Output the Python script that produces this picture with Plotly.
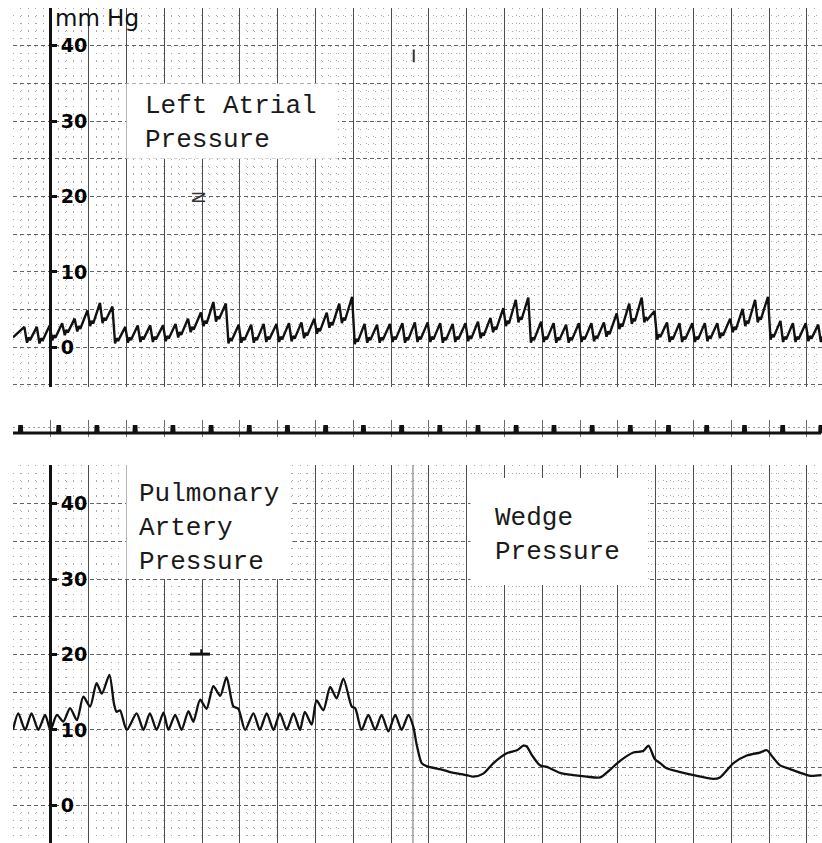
import plotly.graph_objects as go

# ---------------- data ----------------
# Left atrial pressure: one entry per heart beat (peak time s, peak mmHg, trough after the peak mmHg)
la_peak_t = [0.30, 0.63, 0.97, 1.30, 1.63, 1.97, 2.30, 2.63, 2.97, 3.30, 3.63, 3.97, 4.30, 4.63,
             4.97, 5.30, 5.63, 5.97, 6.30, 6.63, 6.97, 7.30, 7.63, 7.97, 8.30, 8.63, 8.97, 9.30,
             9.63, 9.97, 10.30, 10.63, 10.97, 11.30, 11.63, 11.97, 12.30, 12.63, 12.97, 13.30,
             13.63, 13.97, 14.30, 14.63, 14.97, 15.30, 15.63, 15.97, 16.30, 16.63, 16.97, 17.30,
             17.63, 17.97, 18.30, 18.63, 18.97, 19.30, 19.63, 19.97, 20.30, 20.63, 20.97, 21.30]
la_peak = [2.7, 2.7, 2.9, 3.2, 3.8, 4.9, 5.9, 5.4,
           2.7, 2.9, 2.9, 2.9, 3.1, 3.8, 4.6, 6.0, 5.8,
           3.0, 3.0, 3.1, 3.1, 3.2, 3.3, 3.8, 4.6, 5.8, 6.7,
           3.1, 3.0, 3.1, 3.2, 3.3, 3.3, 3.2, 3.1, 3.2, 3.4, 3.9, 5.2, 6.3, 6.6,
           3.4, 3.2, 3.0, 3.2, 3.2, 3.3, 4.5, 5.8, 6.6, 4.8,
           3.3, 3.2, 3.2, 3.2, 3.2, 3.8, 5.1, 6.3, 6.7,
           3.5, 3.2, 3.2, 3.0]
la_trough = [0.6, 0.5, 0.9, 1.6, 2.1, 2.8, 3.2, 0.5,
             0.6, 0.7, 0.7, 0.8, 1.3, 2.0, 2.8, 3.4, 0.5,
             0.6, 0.6, 0.7, 0.7, 0.8, 1.2, 1.8, 2.6, 3.2, 0.4,
             0.6, 0.6, 0.7, 0.6, 0.7, 0.7, 0.6, 0.7, 0.8, 1.2, 2.0, 2.8, 3.3, 0.6,
             0.7, 0.6, 0.6, 0.7, 0.8, 1.4, 2.4, 3.1, 3.3, 1.0,
             0.7, 0.7, 0.7, 0.8, 1.2, 2.0, 2.8, 3.3, 1.0,
             0.7, 0.7, 0.8, 0.7]
la_start = 1.3

# Pulmonary artery pressure, then wedge pressure after the catheter is advanced (s, mmHg)
pa_t = [0.00, 0.14, 0.32, 0.49, 0.67, 0.85, 0.99, 1.16, 1.33, 1.51, 1.69, 1.86, 2.04, 2.21,
        2.35, 2.55, 2.67, 2.74, 2.83, 3.01, 3.27, 3.45, 3.62, 3.80, 3.98, 4.11, 4.29, 4.46,
        4.64, 4.77, 4.95, 5.12, 5.30, 5.48, 5.65, 5.83, 5.96, 6.14, 6.36, 6.53, 6.71, 6.89,
        7.06, 7.24, 7.42, 7.59, 7.72, 7.90, 8.03, 8.21, 8.39, 8.56, 8.74, 8.96, 9.05, 9.22,
        9.40, 9.58, 9.75, 9.93, 10.11, 10.28, 10.46, 10.59, 10.68, 10.81,
        10.94, 11.38, 11.56, 12.00, 12.18, 12.44, 12.71, 13.06, 13.33, 13.50, 13.59, 13.72,
        13.94, 14.12, 14.47, 14.82, 15.18, 15.53, 15.79, 16.06, 16.41, 16.67, 16.81, 16.98,
        17.12, 17.29, 17.65, 18.00, 18.53, 18.70, 19.06, 19.41, 19.76, 19.94, 20.11, 20.29,
        20.56, 20.83, 21.09, 21.39]
pa_p = [10.0, 12.2, 10.0, 12.2, 10.0, 12.0, 10.0, 12.0, 11.1, 12.9, 11.3, 14.4, 13.1, 16.2,
        14.8, 17.3, 13.5, 12.4, 12.6, 10.0, 12.2, 10.0, 12.2, 10.0, 12.3, 10.0, 12.0, 10.0,
        12.5, 11.1, 14.0, 12.8, 15.8, 14.5, 17.0, 13.1, 12.8, 10.0, 12.2, 10.0, 12.2, 10.0,
        12.2, 10.0, 12.2, 10.0, 12.4, 10.7, 13.9, 12.6, 15.7, 14.2, 16.8, 13.1, 12.9, 10.0,
        12.0, 10.0, 12.0, 9.8, 12.0, 10.0, 12.0, 10.4, 8.0, 5.6,
        5.2, 4.7, 4.4, 4.0, 3.8, 4.2, 5.6, 6.9, 7.3, 7.9, 7.8, 6.7,
        5.3, 5.1, 4.3, 4.0, 3.8, 3.7, 4.7, 5.9, 7.0, 7.2, 7.9, 6.1,
        5.6, 4.9, 4.4, 4.0, 3.5, 3.7, 5.6, 6.6, 7.0, 7.3, 6.3, 5.3,
        4.8, 4.3, 3.9, 4.0]

# Time marker pulses on the centre channel (s)
mark_t = [0.20, 1.21, 2.22, 3.23, 4.23, 5.24, 6.25, 7.26, 8.27, 9.27, 10.28, 11.29, 12.30,
          13.31, 14.31, 15.32, 16.33, 17.34, 18.35, 19.35, 20.36, 21.37]

scale_vals = [0, 10, 20, 30, 40]
scale_text = ["0", "10", "20", "30", "40"]

# ---------------- geometry ----------------
W, H = 822, 843
T_END = 21.40
X_DOM = [13 / W, 1.0]
TOP_DOM = [1 - 387 / H, 1 - 8 / H]
BOT_DOM = [0.0, 1 - 465 / H]
MID_DOM = [1 - 437 / H, 1 - 420 / H]
TOP_RANGE = [-5.27, 45.0]
BOT_RANGE = [-5.0, 45.13]
AXIS_POS = 50 / W

# waveform vertices for the left atrial trace
la_x, la_y = [0.0], [la_start]
for t, pk, tr in zip(la_peak_t, la_peak, la_trough):
    la_x += [t, t + 0.07, t + 0.11, t + 0.15]
    la_y += [pk, tr, tr + 0.7, tr + 0.35]

# narrow pulses for the time marker channel
mk_x, mk_y = [0.0], [0.0]
for t in mark_t:
    mk_x += [t - 0.03, t - 0.02, t + 0.02, t + 0.03]
    mk_y += [0.0, 6.5, 6.5, 0.0]
mk_x.append(T_END)
mk_y.append(0.0)

INK = "#111111"
MAJOR_V = "#4d4d4d"
MAJOR_H = "#626262"
MINOR = "#a8a8a8"

fig = go.Figure()
fig.add_trace(go.Scatter(x=la_x, y=la_y, xaxis="x", yaxis="y4", mode="lines",
                         line=dict(color=INK, width=2.4), hoverinfo="skip", showlegend=False))
fig.add_trace(go.Scatter(x=pa_t, y=pa_p, xaxis="x2", yaxis="y5", mode="lines",
                         line=dict(color=INK, width=2.3, shape="spline", smoothing=0.7),
                         hoverinfo="skip", showlegend=False))
fig.add_trace(go.Scatter(x=mk_x, y=mk_y, xaxis="x3", yaxis="y3", mode="lines",
                         line=dict(color=INK, width=3.2), hoverinfo="skip", showlegend=False))


def time_axis(anchor, grid=True, minor=True):
    ax = dict(domain=X_DOM, range=[0, T_END], anchor=anchor, showticklabels=False, ticks="",
              zeroline=False, showline=False, tick0=0, dtick=1, showgrid=grid,
              gridcolor=MAJOR_V, gridwidth=1)
    if minor:
        ax["minor"] = dict(tick0=0, dtick=0.2, showgrid=True, gridcolor=MINOR, gridwidth=1,
                           griddash="1px,6.56px")
    return ax


def grid_axis(dom, rng, anchor):
    return dict(domain=dom, range=rng, anchor=anchor, showticklabels=False, ticks="",
                zeroline=False, showline=False, tick0=0, dtick=5, showgrid=True,
                gridcolor=MAJOR_H, gridwidth=1, griddash="4px,3px",
                minor=dict(tick0=0, dtick=1, showgrid=True, gridcolor=MINOR, gridwidth=1,
                           griddash="1px,6.5px"))


def scale_axis(over, rng):
    return dict(overlaying=over, anchor="free", position=AXIS_POS, side="right", range=rng,
                showgrid=False, zeroline=False, showline=True, linecolor=INK, linewidth=3,
                ticks="outside", ticklen=5, tickwidth=2.5, tickcolor=INK,
                tickvals=scale_vals, ticktext=scale_text,
                tickfont=dict(family="DejaVu Sans", size=19, color="#000000", weight="bold"))


mid_x = time_axis("y3", minor=False)
mid_x["gridcolor"] = "#6a6a6a"

fig.update_layout(
    width=W, height=H, margin=dict(l=0, r=0, t=0, b=0), autosize=False,
    paper_bgcolor="white", plot_bgcolor="white", showlegend=False,
    xaxis=time_axis("y"),
    yaxis=grid_axis(TOP_DOM, TOP_RANGE, "x"),
    xaxis2=dict(time_axis("y2"), matches="x"),
    yaxis2=grid_axis(BOT_DOM, BOT_RANGE, "x2"),
    xaxis3=dict(mid_x, matches="x"),
    yaxis3=dict(domain=MID_DOM, range=[-4, 13], anchor="x3", showticklabels=False, ticks="",
                zeroline=False, showline=False, tickvals=[6], showgrid=True,
                gridcolor="#9a9a9a", gridwidth=1, griddash="2px,3px"),
    yaxis4=scale_axis("y", TOP_RANGE),
    yaxis5=scale_axis("y2", BOT_RANGE),
)

# label cards pasted over the chart paper
for xr, yr, x0, x1, y0, y1 in [("x", "y", 3.0, 8.6, 25, 35),
                               ("x2", "y2", 3.0, 7.35, 30, 45.13),
                               ("x2", "y2", 12.1, 16.8, 29.2, 43.4)]:
    fig.add_shape(type="rect", xref=xr, yref=yr, x0=x0, x1=x1, y0=y0, y1=y1,
                  fillcolor="white", line=dict(width=0), layer="between")

# splice in the paper where the catheter is wedged
fig.add_shape(type="line", xref="x2", yref="y2", x0=10.58, x1=10.58, y0=-5, y1=45.13,
              line=dict(color="#6e6e6e", width=1), layer="between")
# pen marks
fig.add_shape(type="line", xref="x", yref="y", x0=10.6, x1=10.6, y0=37.8, y1=39.5,
              line=dict(color="#333333", width=2))
fig.add_shape(type="line", xref="x2", yref="y2", x0=4.68, x1=5.21, y0=20.05, y1=20.05,
              line=dict(color=INK, width=3))
fig.add_shape(type="line", xref="x2", yref="y2", x0=4.98, x1=4.98, y0=20.05, y1=20.7,
              line=dict(color=INK, width=2))

TYPE = dict(family="Liberation Mono", size=26, color="#1a1a1a")
fig.add_annotation(xref="x", yref="y", x=3.45, y=34.2, xanchor="left", yanchor="top",
                   text="Left Atrial<br>Pressure", showarrow=False, align="left", font=TYPE)
fig.add_annotation(xref="x2", yref="y2", x=3.28, y=43.5, xanchor="left", yanchor="top",
                   text="Pulmonary<br>Artery<br>Pressure", showarrow=False, align="left", font=TYPE)
fig.add_annotation(xref="x2", yref="y2", x=12.7, y=40.3, xanchor="left", yanchor="top",
                   text="Wedge<br>Pressure", showarrow=False, align="left", font=TYPE)
fig.add_annotation(xref="paper", yref="paper", x=53 / W, y=1 - 3 / H, xanchor="left",
                   yanchor="top", text="mm Hg", showarrow=False,
                   font=dict(family="DejaVu Sans", size=23, color=INK))
fig.add_annotation(xref="x", yref="y", x=4.9, y=19.9, text="N", textangle=90, showarrow=False,
                   font=dict(family="DejaVu Sans", size=17, color="#333333"))

fig.write_html("out.html")
